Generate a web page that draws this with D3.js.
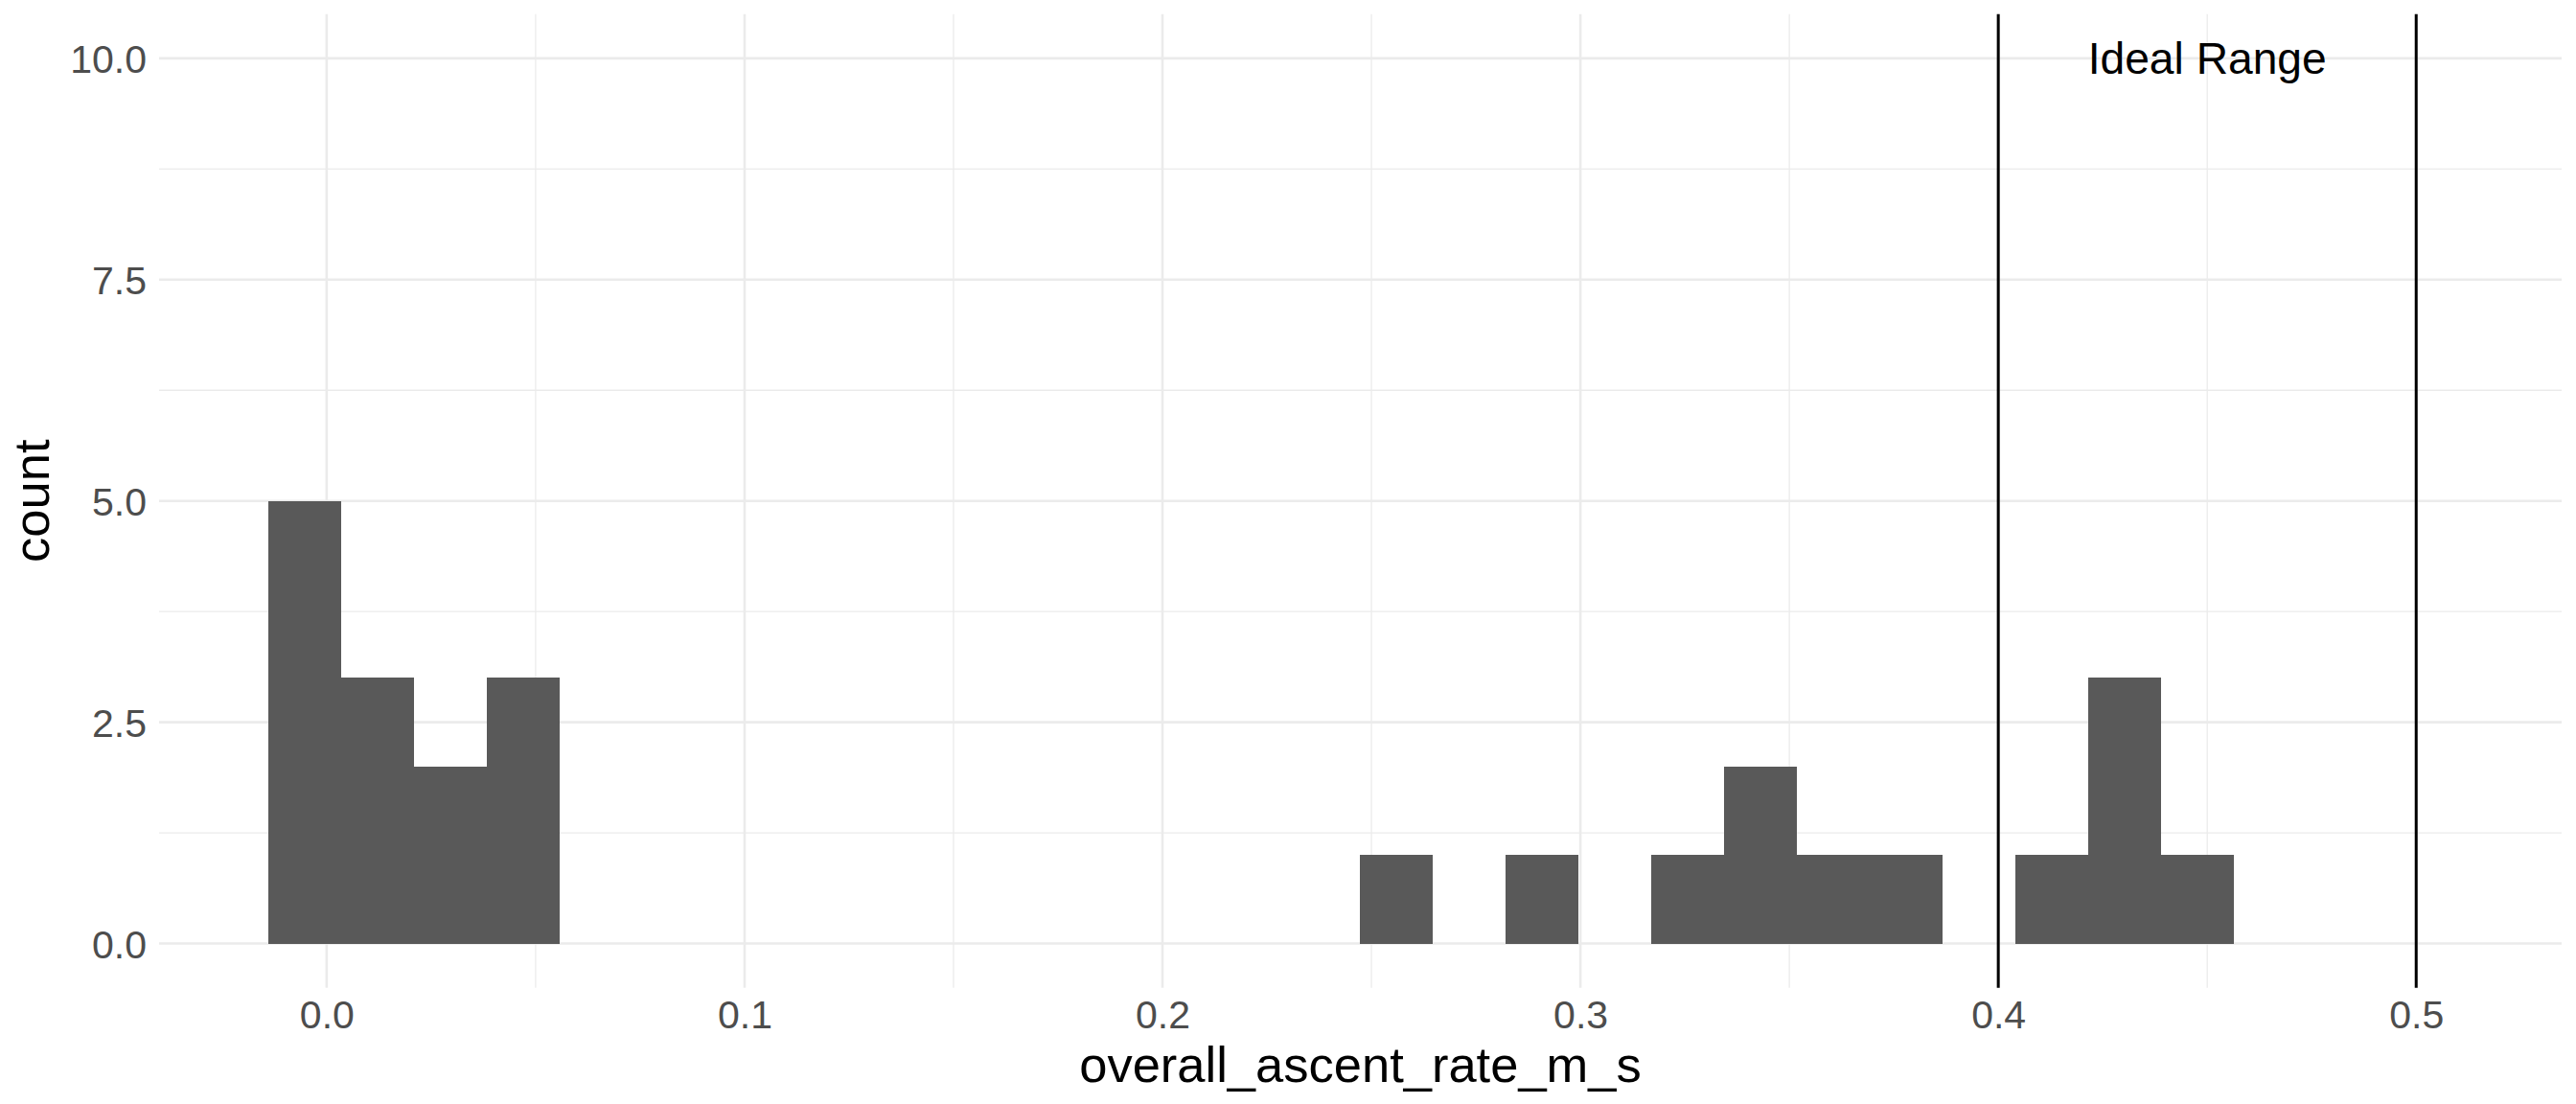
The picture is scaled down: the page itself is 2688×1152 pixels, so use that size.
<!DOCTYPE html>
<html>
<head>
<meta charset="utf-8">
<script src="https://cdn.jsdelivr.net/npm/d3@7"></script>
<style>
  body { margin: 0; background: #fff; }
  text { font-family: "Liberation Sans", Arial, sans-serif; }
</style>
</head>
<body>
<svg id="chart" width="2688" height="1152"></svg>
<script>
// histogram bins (left edge of each non-empty bin) and their counts
const binWidth = 0.017422
const binX0 = [-0.01399, 0.00343, 0.02085, 0.03828, 0.24734, 0.28218, 0.31703,
               0.33445, 0.35187, 0.36929, 0.40413, 0.42156, 0.43898]
const counts = [5, 3, 2, 3, 1, 1, 1, 2, 1, 1, 1, 3, 1]

// reference lines for the ideal range
const idealRange = [0.4, 0.5]
const idealLabel = {x: 0.45, y: 10, text: "Ideal Range"}

const xTicks = [0, 0.1, 0.2, 0.3, 0.4, 0.5]
const xMinor = [0.05, 0.15, 0.25, 0.35, 0.45]
const yTicks = [0, 2.5, 5, 7.5, 10]
const yMinor = [1.25, 3.75, 6.25, 8.75]

const xTitle = "overall_ascent_rate_m_s"
const yTitle = "count"

var panel = {left: 166, right: 2673, top: 14.7, bottom: 1030.7}

var x = d3.scaleLinear().domain([-0.0401, 0.5348]).range([panel.left, panel.right])
var y = d3.scaleLinear().domain([-0.5, 10.5]).range([panel.bottom, panel.top])

const svg = d3.select("#chart")

// grid
var grid = svg.append("g").attr("class", "grid").attr("stroke", "#EBEBEB")

grid.selectAll("line.ymin").data(yMinor).join("line")
    .attr("class", "ymin")
    .attr("x1", panel.left).attr("x2", panel.right)
    .attr("y1", d => y(d)).attr("y2", d => y(d))
    .attr("stroke-width", 1.3)

grid.selectAll("line.xmin").data(xMinor).join("line")
    .attr("class", "xmin")
    .attr("y1", panel.top).attr("y2", panel.bottom)
    .attr("x1", d => x(d)).attr("x2", d => x(d))
    .attr("stroke-width", 1.3)

grid.selectAll("line.ymaj").data(yTicks).join("line")
    .attr("class", "ymaj")
    .attr("x1", panel.left).attr("x2", panel.right)
    .attr("y1", d => y(d)).attr("y2", d => y(d))
    .attr("stroke-width", 2.6)

grid.selectAll("line.xmaj").data(xTicks).join("line")
    .attr("class", "xmaj")
    .attr("y1", panel.top).attr("y2", panel.bottom)
    .attr("x1", d => x(d)).attr("x2", d => x(d))
    .attr("stroke-width", 2.6)

// bars
svg.append("g").attr("fill", "#595959")
  .selectAll("rect")
  .data(binX0.map((d, i) => ({x0: d, x1: d + binWidth, n: counts[i]})))
  .join("rect")
    .attr("x", d => x(d.x0))
    .attr("width", d => x(d.x1) - x(d.x0))
    .attr("y", d => y(d.n))
    .attr("height", d => y(0) - y(d.n))
    .attr("shape-rendering", "crispEdges")

// ideal range lines
svg.append("g").selectAll("line")
  .data(idealRange)
  .join("line")
    .attr("x1", d => x(d)).attr("x2", d => x(d))
    .attr("y1", panel.top).attr("y2", panel.bottom)
    .attr("stroke", "#000")
    .attr("stroke-width", 3)

svg.append("text")
    .attr("x", x(idealLabel.x))
    .attr("y", y(idealLabel.y))
    .attr("dy", "0.34em")
    .attr("text-anchor", "middle")
    .attr("font-size", 46.2)
    .attr("fill", "#000")
    .text(idealLabel.text)

// axes (labels only, ggplot minimal has no ticks or axis lines)
var xAxis = svg.append("g")
    .attr("transform", `translate(0,${panel.bottom})`)
    .call(d3.axisBottom(x).tickValues(xTicks).tickFormat(d3.format(".1f")).tickSize(0).tickPadding(13))
xAxis.select(".domain").remove()
xAxis.selectAll("text")
    .attr("font-size", 41)
    .attr("fill", "#4D4D4D")
    .style("font-family", '"Liberation Sans", Arial, sans-serif')

var yAxis = svg.append("g")
    .attr("transform", `translate(${panel.left},0)`)
    .call(d3.axisLeft(y).tickValues(yTicks).tickFormat(d3.format(".1f")).tickSize(0).tickPadding(13))
yAxis.select(".domain").remove()
yAxis.selectAll("text")
    .attr("dy", "0.36em")
    .attr("font-size", 41)
    .attr("fill", "#4D4D4D")
    .style("font-family", '"Liberation Sans", Arial, sans-serif')

// titles
svg.append("text")
    .attr("x", (panel.left + panel.right) / 2)
    .attr("y", 1129)
    .attr("text-anchor", "middle")
    .attr("font-size", 52.5)
    .attr("fill", "#000")
    .text(xTitle)

svg.append("text")
    .attr("transform", `translate(51,${(panel.top + panel.bottom) / 2}) rotate(-90)`)
    .attr("text-anchor", "middle")
    .attr("font-size", 52.5)
    .attr("fill", "#000")
    .text(yTitle)
</script>
</body>
</html>
